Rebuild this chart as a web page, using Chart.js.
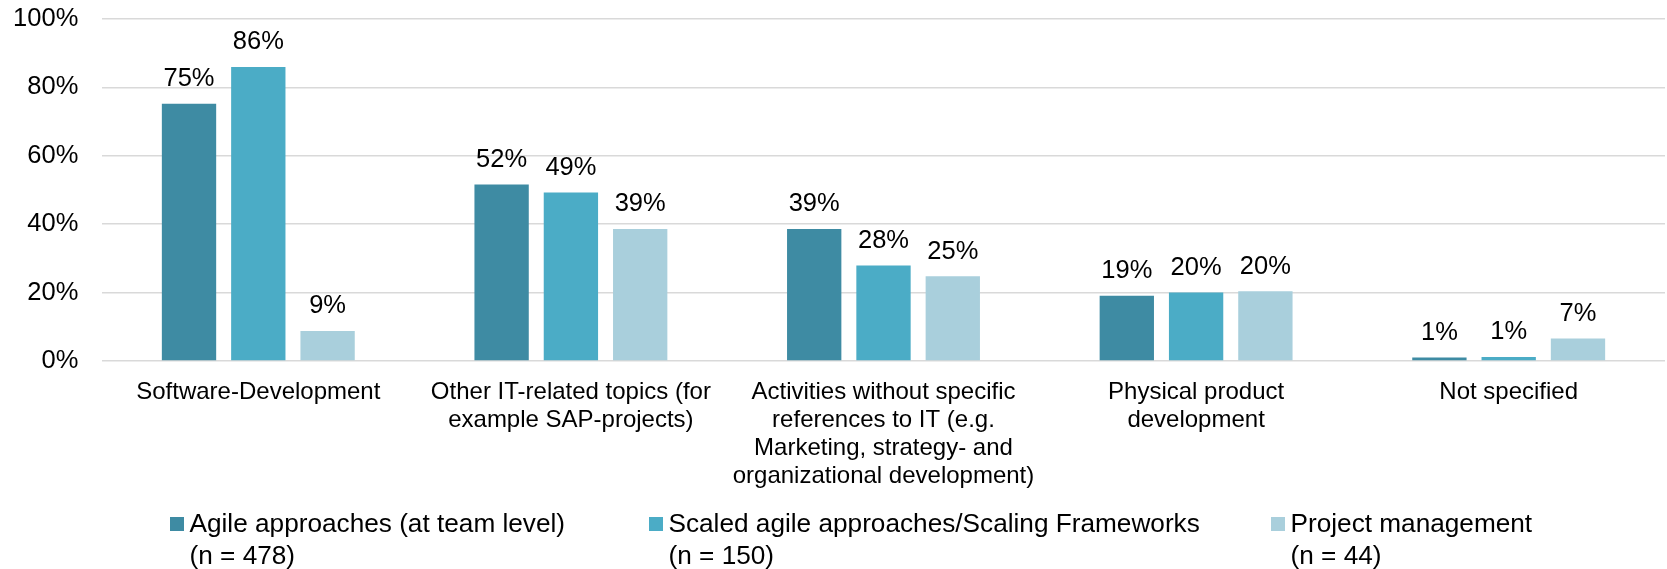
<!DOCTYPE html>
<html>
<head>
<meta charset="utf-8">
<script src="https://cdn.jsdelivr.net/npm/chart.js@4/dist/chart.umd.min.js"></script>
<style>
  html, body { margin: 0; padding: 0; background: #ffffff; }
  #wrap { width: 1667px; height: 569px; position: relative; }
</style>
</head>
<body>
<div id="wrap"><canvas id="c" width="1667" height="569"></canvas></div>
<script>
// ---- data ----
const categories = [
  'Software-Development',
  ['Other IT-related topics (for', 'example SAP-projects)'],
  ['Activities without specific', 'references to IT (e.g.', 'Marketing, strategy- and', 'organizational development)'],
  ['Physical product', 'development'],
  'Not specified'
];
const seriesNames = [
  'Agile approaches (at team level)',
  'Scaled agile approaches/Scaling Frameworks',
  'Project management'
];
const seriesN = ['(n = 478)', '(n = 150)', '(n = 44)'];
const agileTeam   = [75.2, 51.6, 38.6, 19.1, 1.0];
const scaledAgile = [86.0, 49.3, 27.9, 20.0, 1.2];
const projectMgmt = [8.8, 38.6, 24.8, 20.4, 6.6];
const yTicks = [0, 20, 40, 60, 80, 100];

// ---- style ----
const colors = ['#3E8BA3', '#4BACC6', '#A9CFDC'];
const FONT = "'Liberation Sans', Arial, Helvetica, sans-serif";
const legendX = [170, 649, 1271];

Chart.defaults.font.family = FONT;
Chart.defaults.font.size = 24;
Chart.defaults.color = '#000000';

const valueLabels = {
  id: 'valueLabels',
  afterDatasetsDraw(chart) {
    const ctx = chart.ctx;
    ctx.save();
    ctx.font = '25.5px ' + FONT;
    ctx.fillStyle = '#000000';
    ctx.textAlign = 'center';
    ctx.textBaseline = 'alphabetic';
    chart.data.datasets.forEach((ds, i) => {
      const meta = chart.getDatasetMeta(i);
      meta.data.forEach((bar, j) => {
        ctx.fillText(Math.round(ds.data[j]) + '%', bar.x, bar.y - 17.5);
      });
    });
    ctx.restore();
  }
};

const customLegend = {
  id: 'customLegend',
  afterDraw(chart) {
    const ctx = chart.ctx;
    ctx.save();
    ctx.font = '26.2px ' + FONT;
    ctx.textAlign = 'left';
    ctx.textBaseline = 'alphabetic';
    chart.data.datasets.forEach((ds, i) => {
      const x = legendX[i];
      ctx.fillStyle = ds.backgroundColor;
      ctx.fillRect(x, 517, 14, 14);
      ctx.fillStyle = '#000000';
      ctx.fillText(seriesNames[i], x + 19.5, 531.5);
      ctx.fillText(seriesN[i], x + 19.5, 564.2);
    });
    ctx.restore();
  }
};

new Chart(document.getElementById('c'), {
  type: 'bar',
  data: {
    labels: categories,
    datasets: [
      { label: seriesNames[0] + ' ' + seriesN[0], data: agileTeam,   backgroundColor: colors[0] },
      { label: seriesNames[1] + ' ' + seriesN[1], data: scaledAgile, backgroundColor: colors[1] },
      { label: seriesNames[2] + ' ' + seriesN[2], data: projectMgmt, backgroundColor: colors[2] }
    ]
  },
  options: {
    responsive: false,
    animation: false,
    devicePixelRatio: 1,
    layout: { padding: { top: 0, right: 2, bottom: 0, left: 0 } },
    datasets: { bar: { categoryPercentage: 0.665, barPercentage: 0.784 } },
    plugins: { legend: { display: false }, tooltip: { enabled: false } },
    scales: {
      x: {
        grid: { display: false, drawTicks: false },
        border: { display: false },
        ticks: {
          padding: 17.5,
          maxRotation: 0,
          autoSkip: false,
          font: { size: 24, lineHeight: 1.17 },
          color: '#000000'
        },
        afterFit(scale) { scale.height = 208; }
      },
      y: {
        min: 0,
        max: 100,
        afterBuildTicks(scale) { scale.ticks = yTicks.map(v => ({ value: v })); },
        grid: { color: '#d9d9d9', lineWidth: 1.5, drawTicks: false },
        border: { display: false },
        ticks: {
          padding: 23.7,
          font: { size: 25.5 },
          color: '#000000',
          callback: v => v + '%'
        },
        afterFit(scale) {
          scale.width = 102;
          scale.paddingTop = 19;
          scale.paddingBottom = 0;
        }
      }
    }
  },
  plugins: [valueLabels, customLegend]
});
</script>
</body>
</html>
